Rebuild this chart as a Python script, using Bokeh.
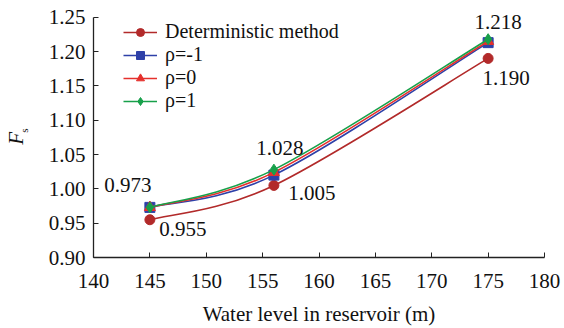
from bokeh.plotting import figure
from bokeh.models import (Legend, LegendItem, Label, ColumnDataSource,
                          FixedTicker, Range1d, NumeralTickFormatter, LinearAxis)
from bokeh.embed import file_html
from bokeh.resources import INLINE

# ---------------- data ----------------
water_level = [145, 156, 175]
fs_deterministic = [0.955, 1.005, 1.190]
fs_rho_minus1 = [0.973, 1.020, 1.213]
fs_rho_0 = [0.973, 1.024, 1.215]
fs_rho_1 = [0.973, 1.028, 1.218]

series_names = ["Deterministic method", "ρ=-1", "ρ=0", "ρ=1"]
x_ticks = [140, 145, 150, 155, 160, 165, 170, 175, 180]
y_ticks = [0.90, 0.95, 1.00, 1.05, 1.10, 1.15, 1.20, 1.25]

# annotated values (level, value)
annot_det = [(145, 0.955), (156, 1.005), (175, 1.190)]
annot_top = [(145, 0.973), (156, 1.028), (175, 1.218)]

# ---------------- style ----------------
FONT = "Liberation Serif"
FS = "21px"
colors = ["#B22A2A", "#2E40A8", "#E5302C", "#17A04A"]
markers = ["circle", "square", "triangle", "diamond"]
msizes = [10, 10, 11, 11]

p = figure(width=564, height=328, output_backend="svg", toolbar_location=None,
           x_range=Range1d(140, 180), y_range=Range1d(0.90, 1.27),
           min_border_left=90, min_border_right=20, min_border_top=3,
           min_border_bottom=69, background_fill_color="white",
           border_fill_color="white", outline_line_color=None)
p.grid.visible = False

for ax in (p.xaxis, p.yaxis):
    ax.major_label_text_font = FONT
    ax.major_label_text_font_size = FS
    ax.major_label_text_color = "#111111"
    ax.axis_line_color = "#222222"
    ax.axis_line_width = 1.3
    ax.major_tick_line_color = "#222222"
    ax.major_tick_in = 5
    ax.major_tick_out = 0
    ax.minor_tick_line_color = None

p.xaxis.ticker = FixedTicker(ticks=x_ticks)
p.yaxis.ticker = FixedTicker(ticks=y_ticks)
p.yaxis.bounds = (0.90, 1.25)
p.yaxis.formatter = NumeralTickFormatter(format="0.00")
p.xaxis.major_label_standoff = 16
p.yaxis.major_label_standoff = 8

p.xaxis.axis_label = "Water level in reservoir (m)"
p.xaxis.axis_label_text_font = FONT
p.xaxis.axis_label_text_font_size = FS
p.xaxis.axis_label_text_font_style = "normal"
p.xaxis.axis_label_text_color = "#111111"
p.xaxis.axis_label_standoff = 11


def title_axis(text, size, style, standoff):
    ax = LinearAxis(ticker=FixedTicker(ticks=[]),
                    axis_line_color=None, major_tick_line_color=None,
                    minor_tick_line_color=None, major_label_standoff=0,
                    major_label_text_font_size="1px",
                    axis_label=text, axis_label_text_font=FONT,
                    axis_label_text_font_size=size,
                    axis_label_text_font_style=style,
                    axis_label_text_color="#111111",
                    axis_label_standoff=standoff)
    p.add_layout(ax, "left")
    return ax


# y-axis title: italic F with a subscript s (non-breaking spaces shift the F down)
title_axis("s", "11px", "normal", 16)
title_axis("F\u00a0\u00a0\u00a0", FS, "italic", -13)


def smooth_segments(xs, ys):
    """Bezier control points (Catmull-Rom style smoothing, as in a smoothed line chart)."""
    n = len(xs)
    px = [xs[0]] + list(xs) + [xs[-1]]
    py = [ys[0]] + list(ys) + [ys[-1]]
    seg = dict(x0=[], y0=[], x1=[], y1=[], cx0=[], cy0=[], cx1=[], cy1=[])
    for i in range(n - 1):
        a, b, c, d = i, i + 1, i + 2, i + 3
        seg["x0"].append(px[b]); seg["y0"].append(py[b])
        seg["x1"].append(px[c]); seg["y1"].append(py[c])
        seg["cx0"].append(px[b] + (px[c] - px[a]) / 6.0)
        seg["cy0"].append(py[b] + (py[c] - py[a]) / 6.0)
        seg["cx1"].append(px[c] - (px[d] - px[b]) / 6.0)
        seg["cy1"].append(py[c] - (py[d] - py[b]) / 6.0)
    return seg


all_series = [fs_deterministic, fs_rho_minus1, fs_rho_0, fs_rho_1]
items = []
for name, ys, col, mk, ms in zip(series_names, all_series, colors, markers, msizes):
    src = ColumnDataSource(smooth_segments(water_level, ys))
    r_line = p.bezier(x0="x0", y0="y0", x1="x1", y1="y1", cx0="cx0", cy0="cy0",
                      cx1="cx1", cy1="cy1", source=src, line_color=col, line_width=1.6)
    r_pts = p.scatter(water_level, ys, marker=mk, size=ms, fill_color=col,
                      line_color=col)
    items.append(LegendItem(label=name, renderers=[r_line, r_pts]))

legend = Legend(items=items, location=(30, 145), orientation="vertical",
                border_line_color=None, background_fill_alpha=0,
                label_text_font=FONT, label_text_font_size="20px",
                label_text_color="#111111", glyph_width=34, glyph_height=20,
                label_height=20, label_standoff=8, spacing=0, padding=0,
                margin=0)
p.add_layout(legend, "center")

# value annotations
det_offsets = [(33, -9), (38, -8), (18, -20)]
top_offsets = [(-22, 22), (6, 22), (10, 17)]
for (xv, yv), (dx, dy) in zip(annot_det, det_offsets):
    p.add_layout(Label(x=xv, y=yv, x_offset=dx, y_offset=dy, text=f"{yv:.3f}",
                       text_font=FONT, text_font_size=FS, text_color="#111111",
                       text_align="center", text_baseline="middle"))
for (xv, yv), (dx, dy) in zip(annot_top, top_offsets):
    p.add_layout(Label(x=xv, y=yv, x_offset=dx, y_offset=dy, text=f"{yv:.3f}",
                       text_font=FONT, text_font_size=FS, text_color="#111111",
                       text_align="center", text_baseline="middle"))

open("out.html", "w").write(file_html(p, INLINE))
